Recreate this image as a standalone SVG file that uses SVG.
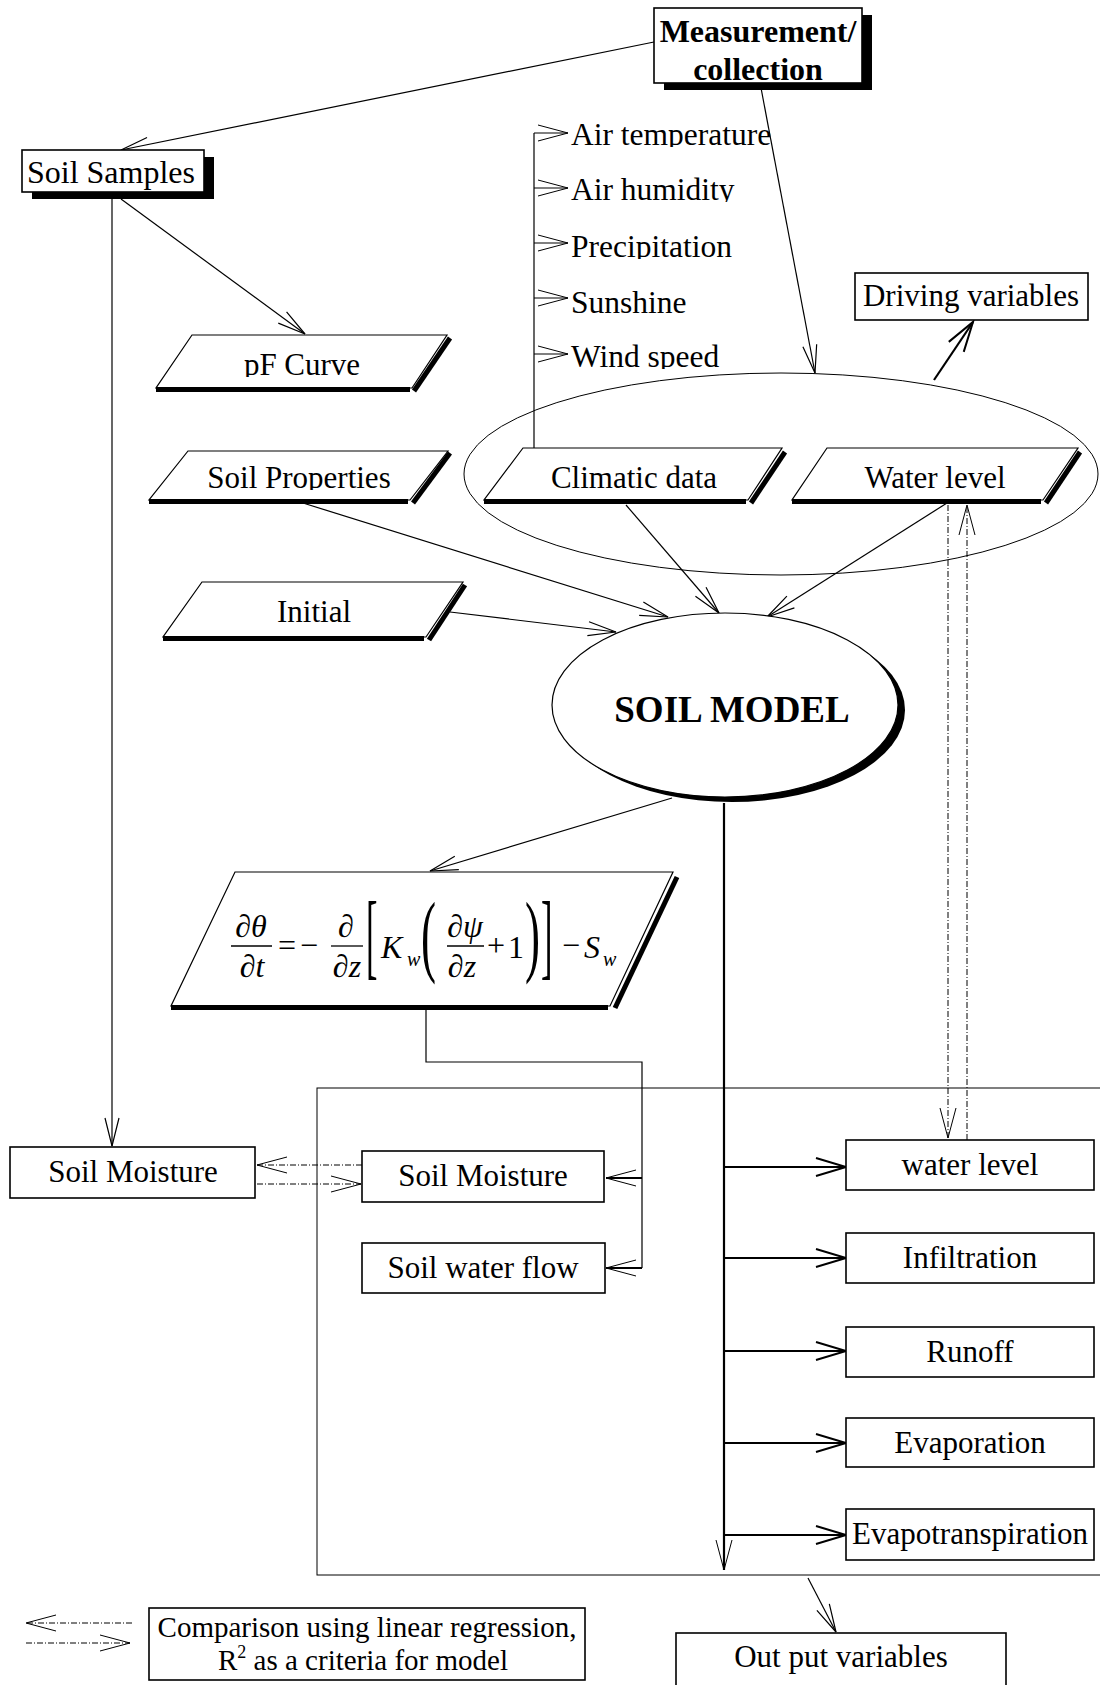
<svg xmlns="http://www.w3.org/2000/svg" width="1100" height="1685" viewBox="0 0 1100 1685">
<style>
text{font-family:"Liberation Serif","Times New Roman",serif;fill:#000}
.lbl{font-size:31px;text-anchor:middle}
.bold{font-weight:bold}
.it{font-style:italic}
.box{fill:#fff;stroke:#000;stroke-width:1.6}
.par{fill:#fff;stroke:#000;stroke-width:1.2}
.thick{stroke:#000;stroke-width:5;fill:none}
.ln{stroke:#000;stroke-width:1.2;fill:none}
.ln2{stroke:#000;stroke-width:2.2;fill:none}
.dash{stroke:#000;stroke-width:1;fill:none;stroke-dasharray:6 2 1 2}
.eq{font-size:32px}
.air{font-size:31.5px}
</style>
<defs>
<marker id="ar" markerUnits="userSpaceOnUse" markerWidth="40" markerHeight="30" refX="0" refY="0" orient="auto" style="overflow:visible"><path d="M-28,-7 L0,0 L-28,7" fill="none" stroke="#000" stroke-width="1.2"/></marker>
<marker id="ar2" markerUnits="userSpaceOnUse" markerWidth="40" markerHeight="30" refX="0" refY="0" orient="auto" style="overflow:visible"><path d="M-30,-9 L0,0 L-30,9" fill="none" stroke="#000" stroke-width="2"/></marker>
<marker id="ard" markerUnits="userSpaceOnUse" markerWidth="40" markerHeight="30" refX="0" refY="0" orient="auto" style="overflow:visible"><path d="M-30,-8 L0,0 L-30,8" fill="none" stroke="#000" stroke-width="1"/></marker>
<clipPath id="clipAir">
<rect x="560" y="112" width="240" height="35"/>
<rect x="560" y="167" width="240" height="35"/>
<rect x="560" y="222" width="240" height="37"/>
<rect x="560" y="278" width="240" height="45"/>
<rect x="560" y="333" width="240" height="36"/>
</clipPath>
<clipPath id="clipPF"><rect x="150" y="340" width="300" height="37"/></clipPath>
<clipPath id="clipSP"><rect x="150" y="455" width="300" height="35"/></clipPath>
</defs>

<g id="connectors">
<line class="ln" x1="654" y1="42" x2="121" y2="150" marker-end="url(#ar)"/>
<line class="ln" x1="761" y1="88" x2="815" y2="373" marker-end="url(#ar)"/>
<line class="ln" x1="121" y1="199" x2="305" y2="334" marker-end="url(#ar)"/>
<line class="ln" x1="112" y1="199" x2="112" y2="1146" marker-end="url(#ar)"/>
<line class="ln" x1="534" y1="133" x2="534" y2="448"/>
<line class="ln" x1="534" y1="133" x2="568" y2="133" marker-end="url(#ard)"/>
<line class="ln" x1="534" y1="188" x2="568" y2="188" marker-end="url(#ard)"/>
<line class="ln" x1="534" y1="243" x2="568" y2="243" marker-end="url(#ard)"/>
<line class="ln" x1="534" y1="298" x2="568" y2="298" marker-end="url(#ard)"/>
<line class="ln" x1="534" y1="354" x2="568" y2="354" marker-end="url(#ard)"/>
<line class="ln2" x1="934" y1="380" x2="973" y2="322" marker-end="url(#ar2)"/>
<line class="ln" x1="303" y1="503" x2="668" y2="617" marker-end="url(#ar)"/>
<line class="ln" x1="450" y1="612" x2="616" y2="632" marker-end="url(#ar)"/>
<line class="ln" x1="626" y1="505" x2="719" y2="613" marker-end="url(#ar)"/>
<line class="ln" x1="947" y1="503" x2="767" y2="617" marker-end="url(#ar)"/>
<line class="ln" x1="672" y1="798" x2="430" y2="871" marker-end="url(#ar)"/>
<polyline class="ln" points="426,1009 426,1062 642,1062 642,1268"/>
<line class="ln2" x1="642" y1="1178" x2="606" y2="1178" marker-end="url(#ard)"/>
<line class="ln2" x1="642" y1="1268" x2="606" y2="1268" marker-end="url(#ard)"/>
<line class="ln2" x1="724" y1="803" x2="724" y2="1570" marker-end="url(#ard)"/>
<line class="ln2" x1="724" y1="1167" x2="846" y2="1167" marker-end="url(#ar2)"/>
<line class="ln2" x1="724" y1="1258" x2="846" y2="1258" marker-end="url(#ar2)"/>
<line class="ln2" x1="724" y1="1351" x2="846" y2="1351" marker-end="url(#ar2)"/>
<line class="ln2" x1="724" y1="1443" x2="846" y2="1443" marker-end="url(#ar2)"/>
<line class="ln2" x1="724" y1="1535" x2="846" y2="1535" marker-end="url(#ar2)"/>
<line class="dash" x1="948" y1="505" x2="948" y2="1138" marker-end="url(#ard)"/>
<line class="dash" x1="967" y1="1140" x2="967" y2="505" marker-end="url(#ard)"/>
<line class="dash" x1="362" y1="1165" x2="257" y2="1165" marker-end="url(#ard)"/>
<line class="dash" x1="257" y1="1184" x2="361" y2="1184" marker-end="url(#ard)"/>
<line class="ln" x1="808" y1="1578" x2="836" y2="1632" marker-end="url(#ar)"/>
<line class="dash" x1="132" y1="1623" x2="26" y2="1623" marker-end="url(#ard)"/>
<line class="dash" x1="26" y1="1643" x2="130" y2="1643" marker-end="url(#ard)"/>
</g>

<g id="output-frame">
<rect x="317" y="1088" width="800" height="487" fill="none" stroke="#000" stroke-width="1"/>
</g>

<g id="measurement">
<rect x="664" y="15" width="208" height="75" fill="#000"/>
<rect class="box" x="654" y="8" width="208" height="75"/>
<text class="lbl bold" x="758" y="42" style="font-size:32px">Measurement/</text>
<text class="lbl bold" x="758" y="80" style="font-size:32px">collection</text>
</g>

<g id="soil-samples">
<rect x="32" y="157" width="182" height="42" fill="#000"/>
<rect class="box" x="22" y="150" width="182" height="42"/>
<text class="lbl" x="111" y="183" style="font-size:32px">Soil Samples</text>
</g>

<g id="climate-list">
<g clip-path="url(#clipAir)">
<text class="air" x="571" y="145">Air temperature</text>
<text class="air" x="571" y="200">Air humidity</text>
<text class="air" x="571" y="257">Precipitation</text>
<text class="air" x="571" y="313">Sunshine</text>
<text class="air" x="571" y="367">Wind speed</text>
</g>
</g>

<g id="driving-variables">
<rect class="box" x="855" y="273" width="233" height="47"/>
<text class="lbl" x="971" y="306">Driving variables</text>
</g>

<g id="driving-group">
<ellipse cx="781" cy="474" rx="317" ry="101" fill="none" stroke="#000" stroke-width="1"/>
</g>

<g id="pf-curve">
<polygon class="par" points="192,335 447,335 412,388 156,388"/>
<line class="thick" x1="156" y1="389.5" x2="410" y2="389.5"/>
<line class="thick" x1="450" y1="338" x2="414" y2="391"/>
<text class="lbl" x="302" y="375" clip-path="url(#clipPF)">pF Curve</text>
</g>

<g id="soil-properties">
<polygon class="par" points="188,451 448,451 410,500 149,500"/>
<line class="thick" x1="149" y1="501.5" x2="408" y2="501.5"/>
<line class="thick" x1="450" y1="453" x2="413" y2="503"/>
<text class="lbl" x="299" y="488" clip-path="url(#clipSP)">Soil Properties</text>
</g>

<g id="initial">
<polygon class="par" points="202,582 463,582 426,637 163,637"/>
<line class="thick" x1="163" y1="638.5" x2="424" y2="638.5"/>
<line class="thick" x1="465" y1="585" x2="429" y2="640"/>
<text class="lbl" x="314" y="622">Initial</text>
</g>

<g id="climatic-data">
<polygon class="par" points="523,448 782,448 748,500 484,500"/>
<line class="thick" x1="484" y1="501.5" x2="746" y2="501.5"/>
<line class="thick" x1="785" y1="452" x2="751" y2="503"/>
<text class="lbl" x="634" y="488">Climatic data</text>
</g>

<g id="water-level">
<polygon class="par" points="827,448 1078,448 1043,500 792,500"/>
<line class="thick" x1="792" y1="501.5" x2="1041" y2="501.5"/>
<line class="thick" x1="1080" y1="452" x2="1046" y2="503"/>
<text class="lbl" x="935" y="488">Water level</text>
</g>

<g id="soil-model">
<ellipse cx="732" cy="710" rx="173" ry="92" fill="#000"/>
<ellipse cx="725" cy="705" rx="173" ry="92" fill="#fff" stroke="#000" stroke-width="1.2"/>
<text class="lbl bold" x="732" y="722" style="font-size:37px">SOIL MODEL</text>
</g>

<g id="equation">
<polygon class="par" points="235,872 673,872 610,1006 171,1006"/>
<line class="thick" x1="171" y1="1007.5" x2="608" y2="1007.5"/>
<line class="thick" x1="677" y1="877" x2="615" y2="1008"/>
<g class="eq">
<text class="it" x="251" y="937" text-anchor="middle">∂θ</text>
<line x1="231" y1="946" x2="272" y2="946" stroke="#000" stroke-width="1.3"/>
<text class="it" x="252" y="977" text-anchor="middle">∂t</text>
<text x="287" y="956" text-anchor="middle">=</text>
<text x="309" y="956" text-anchor="middle">−</text>
<text class="it" x="346" y="937" text-anchor="middle">∂</text>
<line x1="331" y1="946" x2="363" y2="946" stroke="#000" stroke-width="1.3"/>
<text class="it" x="347" y="977" text-anchor="middle">∂z</text>
<text transform="translate(366,966.5) scale(0.65,1.8)" style="font-size:53px">[</text>
<text class="it" x="381" y="958">K</text>
<text class="it" x="407" y="966" style="font-size:20px">w</text>
<text transform="translate(421,964.5) scale(0.9,1.8)" style="font-size:50px">(</text>
<text class="it" x="465" y="937" text-anchor="middle">∂ψ</text>
<line x1="447" y1="946" x2="484" y2="946" stroke="#000" stroke-width="1.3"/>
<text class="it" x="462" y="977" text-anchor="middle">∂z</text>
<text x="496" y="956" text-anchor="middle">+</text>
<text x="508" y="958">1</text>
<text transform="translate(525,964.5) scale(0.9,1.8)" style="font-size:50px">)</text>
<text transform="translate(541,966.5) scale(0.65,1.8)" style="font-size:53px">]</text>
<text x="571" y="956" text-anchor="middle">−</text>
<text class="it" x="584" y="958">S</text>
<text class="it" x="603" y="966" style="font-size:20px">w</text>
</g>
</g>

<g id="soil-moisture-measured">
<rect class="box" x="10" y="1147" width="245" height="51"/>
<text class="lbl" x="133" y="1182">Soil Moisture</text>
</g>

<g id="soil-moisture-model">
<rect class="box" x="362" y="1151" width="242" height="51"/>
<text class="lbl" x="483" y="1186">Soil Moisture</text>
</g>

<g id="soil-water-flow">
<rect class="box" x="362" y="1243" width="243" height="50"/>
<text class="lbl" x="483" y="1278">Soil water flow</text>
</g>

<g id="out-water-level">
<rect class="box" x="846" y="1140" width="248" height="50"/>
<text class="lbl" x="970" y="1175">water level</text>
</g>
<g id="out-infiltration">
<rect class="box" x="846" y="1233" width="248" height="50"/>
<text class="lbl" x="970" y="1268">Infiltration</text>
</g>
<g id="out-runoff">
<rect class="box" x="846" y="1327" width="248" height="50"/>
<text class="lbl" x="970" y="1362">Runoff</text>
</g>
<g id="out-evaporation">
<rect class="box" x="846" y="1418" width="248" height="49"/>
<text class="lbl" x="970" y="1453">Evaporation</text>
</g>
<g id="out-evapotranspiration">
<rect class="box" x="846" y="1509" width="248" height="51"/>
<text class="lbl" x="970" y="1544">Evapotranspiration</text>
</g>

<g id="legend">
<rect class="box" x="149" y="1608" width="436" height="72" stroke-width="1.2"/>
<text class="lbl" x="367" y="1637" style="font-size:29px">Comparison using linear regression,</text>
<text class="lbl" x="363" y="1670" style="font-size:29px">R<tspan dy="-12" style="font-size:18px">2</tspan><tspan dy="12"> as a criteria for model</tspan></text>
</g>

<g id="output-variables">
<rect class="box" x="676" y="1633" width="330" height="70"/>
<text class="lbl" x="841" y="1667">Out put variables</text>
</g>
</svg>
